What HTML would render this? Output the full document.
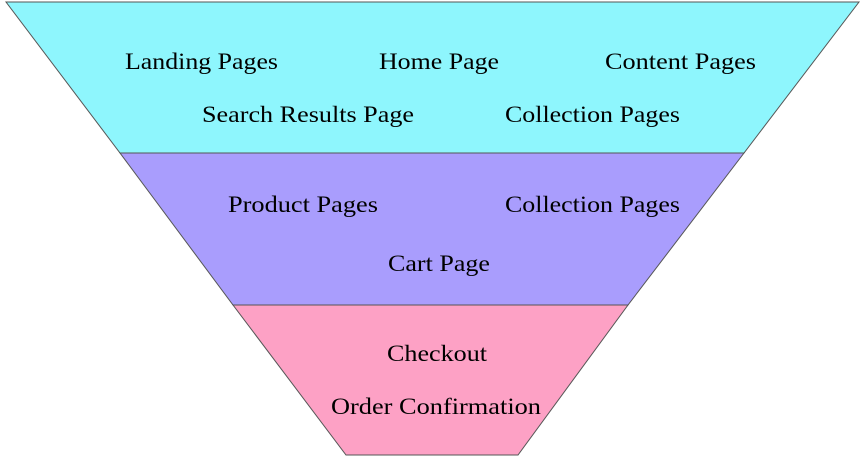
<!DOCTYPE html>
<html><head><style>body{margin:0;background:#fff}svg{display:block}text{font-family:"Liberation Serif",serif;font-size:23px;fill:#000}</style></head>
<body>
<svg width="862" height="461" viewBox="0 0 862 461">
<polygon points="6,2 859,2 744,153 120,153" fill="#8ef6fd" stroke="#555" stroke-width="1"/>
<polygon points="120,153 744,153 628,305 233,305" fill="#a99dfd" stroke="#555" stroke-width="1"/>
<polygon points="233,305 628,305 518,455 346,455" fill="#fda1c5" stroke="#555" stroke-width="1"/>
<text x="125" y="69" textLength="153" lengthAdjust="spacingAndGlyphs">Landing Pages</text>
<text x="379" y="69" textLength="120" lengthAdjust="spacingAndGlyphs">Home Page</text>
<text x="605" y="69" textLength="151" lengthAdjust="spacingAndGlyphs">Content Pages</text>
<text x="202" y="122" textLength="212" lengthAdjust="spacingAndGlyphs">Search Results Page</text>
<text x="505" y="122" textLength="175" lengthAdjust="spacingAndGlyphs">Collection Pages</text>
<text x="228" y="212" textLength="150" lengthAdjust="spacingAndGlyphs">Product Pages</text>
<text x="505" y="212" textLength="175" lengthAdjust="spacingAndGlyphs">Collection Pages</text>
<text x="388" y="271" textLength="102" lengthAdjust="spacingAndGlyphs">Cart Page</text>
<text x="387" y="361" textLength="100" lengthAdjust="spacingAndGlyphs">Checkout</text>
<text x="331" y="414" textLength="210" lengthAdjust="spacingAndGlyphs">Order Confirmation</text>
</svg>
</body></html>
